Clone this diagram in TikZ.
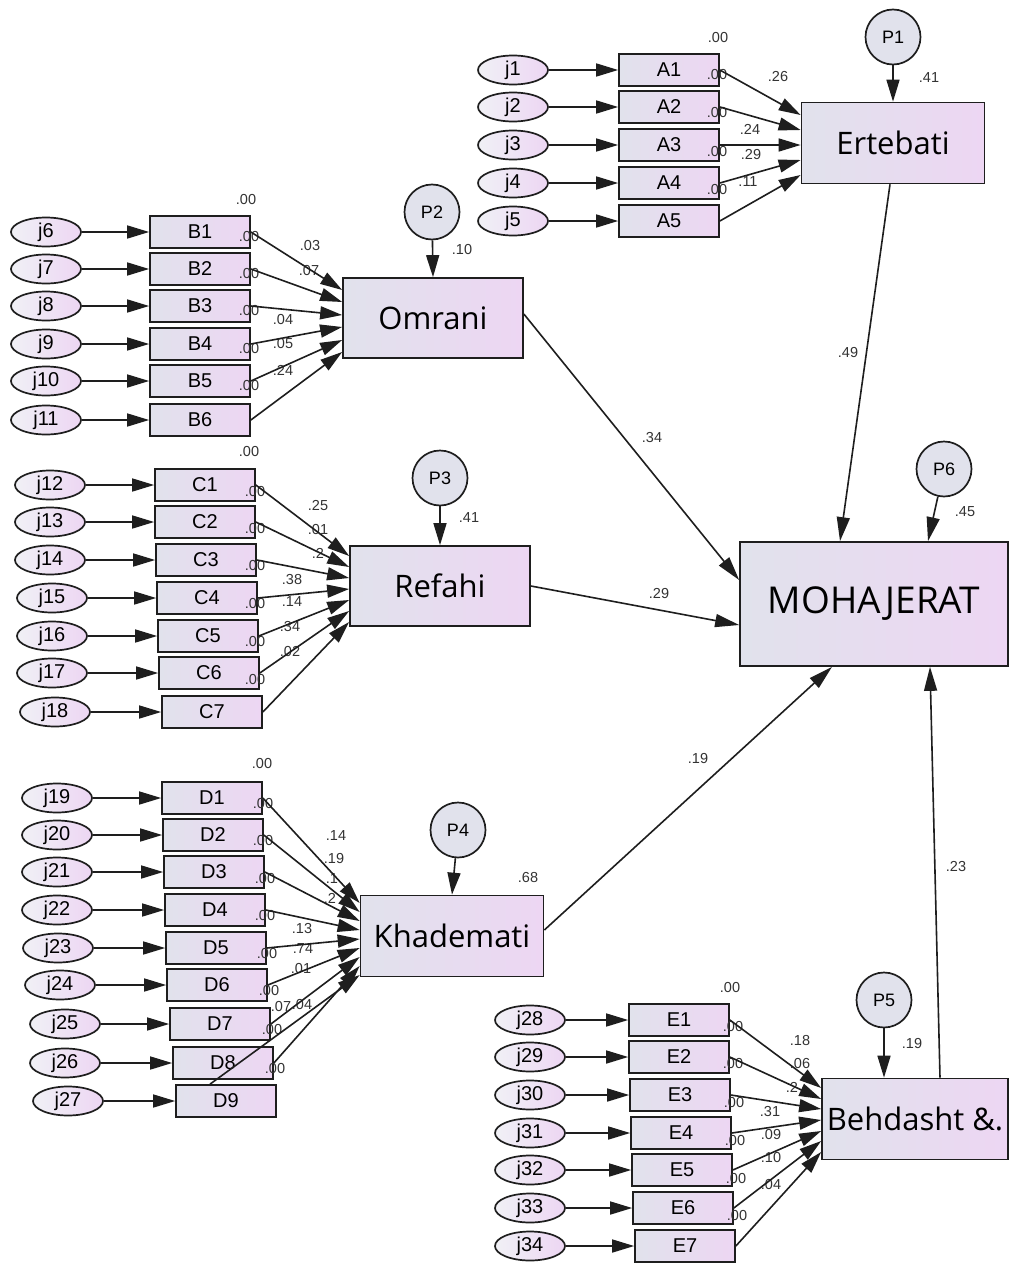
\documentclass[tikz,border=0pt]{standalone}
\usepackage{fontspec}
\setmainfont{Liberation Sans}
\newfontfamily\titlefont{Open Sans}
\usetikzlibrary{arrows.meta,shapes.geometric}
\definecolor{boxL}{HTML}{E1E2EC}
\definecolor{boxR}{HTML}{EDD6F3}
\definecolor{ln}{HTML}{1E1E1E}
\definecolor{lab}{HTML}{333333}
\tikzset{
 ind/.style={draw=ln, line width=1.7pt, left color=boxL, right color=boxR, minimum width=100pt, minimum height=32pt, inner sep=0pt, font=\fontsize{20}{21}\selectfont},
 err/.style={ellipse, draw=ln, line width=1.7pt, left color=boxL!50!white, right color=boxR, minimum width=70pt, minimum height=29pt, inner sep=0pt, font=\fontsize{20}{21}\selectfont},
 comp/.style={draw=ln, line width=1.7pt, left color=boxL, right color=boxR, minimum width=183pt, minimum height=81pt, inner sep=0pt, font=\titlefont\fontsize{31}{34}\selectfont},
 dist/.style={circle, draw=ln, line width=1.7pt, fill=boxL, minimum size=55pt, inner sep=0pt, font=\fontsize{18}{19}\selectfont},
 coef/.style={font=\fontsize{14.5}{15}\selectfont, text=lab, inner sep=0pt},
 arr/.style={draw=ln, line width=1.6pt, -{Triangle[length=22pt,width=13pt]}},
 sarr/.style={draw=ln, line width=1.6pt, -{Triangle[length=24pt,width=13pt]}},
}
\begin{document}
\begin{tikzpicture}[x=1pt,y=-1pt]
\useasboundingbox[fill=white] (0,0) rectangle (1009,1263);

% ---------- Group A ----------
\foreach \i/\y in {1/70,2/107,3/145,4/183,5/221} {
  \node[err] (j\i) at (513,\y) {j\i};
  \node[ind] (A\i) at (669,\y) {A\i};
}
\node[comp] (Ert) at (893,143) {Ertebati};
\node[dist] (P1) at (893,37) {P1};
\node[coef] (lA0) at (718,38) {.00};
\foreach \i/\y in {1/75,2/113,3/152,4/190} \node[coef] (lAv\i) at (717,\y) {.00};
\node[coef] (lA1) at (778,77) {.26};
\node[coef] (lA3) at (750,129) {.24};
\node[coef] (lA4) at (751,155) {.29};
\node[coef] (lA5) at (748,182) {.11};
\node[coef] (lP1) at (929,78) {.41};
\foreach \i in {1,...,5} \draw[arr] (j\i) -- (A\i);
\foreach \i/\o in {1/28,2/13,3/-2,4/-17,5/-32} \draw[arr] (A\i.east) -- ([yshift=\o pt]Ert.west);
\draw[arr] (P1) -- (Ert.north);

% ---------- Group B ----------
\foreach \i/\k/\y in {1/6/232,2/7/269,3/8/306,4/9/344,5/10/381,6/11/420} {
  \node[err] (j\k) at (46,\y) {j\k};
  \node[ind] (B\i) at (200,\y) {B\i};
}
\node[comp, minimum width=180pt, minimum height=80pt] (Omr) at (433,318) {Omrani};
\node[dist] (P2) at (432,212) {P2};
\node[coef] (lB0) at (246,200) {.00};
\foreach \i/\y in {1/237,2/274,3/311,4/349,5/386} \node[coef] (lBv\i) at (249,\y) {.00};
\node[coef] (lB1) at (310,246) {.03};
\node[coef] (lB2) at (309,271) {.07};
\node[coef] (lB4) at (283,320) {.04};
\node[coef] (lB5) at (283,344) {.05};
\node[coef] (lB6) at (283,370) {.24};
\node[coef] (lP2) at (462,250) {.10};
\foreach \i/\k in {1/6,2/7,3/8,4/9,5/10,6/11} \draw[arr] (j\k) -- (B\i);
\foreach \i/\o in {1/28,2/16,3/3,4/-9,5/-22,6/-34} \draw[arr] (B\i.east) -- ([yshift=\o pt]Omr.west);
\draw[arr] (P2) -- (Omr.north);

% ---------- Group C ----------
\foreach \i/\k/\xj/\xb/\y in {1/12/50/205/485,2/13/50/205/522,3/14/50/206/560,4/15/52/207/598,5/16/52/208/636,6/17/52/209/673,7/18/55/212/712} {
  \node[err] (j\k) at (\xj,\y) {j\k};
  \node[ind] (C\i) at (\xb,\y) {C\i};
}
\node[comp, minimum width=180pt, minimum height=80pt] (Ref) at (440,586) {Refahi};
\node[dist] (P3) at (440,478) {P3};
\node[coef] (lC0) at (249,452) {.00};
\foreach \i/\y in {1/492,2/529,3/566,4/604,5/642,6/680} \node[coef] (lCv\i) at (255,\y) {.00};
\node[coef] (lC1) at (318,506) {.25};
\node[coef] (lC2) at (318,530) {.01};
\node[coef] (lC3) at (318,553) {.2};
\node[coef] (lC4) at (292,580) {.38};
\node[coef] (lC5) at (292,602) {.14};
\node[coef] (lC6) at (290,627) {.34};
\node[coef] (lC7) at (290,652) {.02};
\node[coef] (lP3) at (469,518) {.41};
\foreach \i/\k in {1/12,2/13,3/14,4/15,5/16,6/17,7/18} \draw[arr] (j\k) -- (C\i);
\foreach \i/\o in {1/30,2/19,3/8,4/-3,5/-14,6/-25,7/-36} \draw[arr] (C\i.east) -- ([yshift=\o pt]Ref.west);
\draw[arr] (P3) -- (Ref.north);

% ---------- Group D ----------
\foreach \i/\k/\xj/\xb/\y in {1/19/57/212/798,2/20/57/213/835,3/21/57/214/872,4/22/57/215/910,5/23/58/216/948,6/24/60/217/985,7/25/65/220/1024,8/26/65/223/1063,9/27/68/226/1101} {
  \node[err] (j\k) at (\xj,\y) {j\k};
  \node[ind] (D\i) at (\xb,\y) {D\i};
}
\node[comp] (Kha) at (452,936) {Khademati};
\node[dist] (P4) at (458,830) {P4};
\node[coef] (lD0) at (262,763) {.00};
\foreach \i/\x/\y in {1/263/803,2/263/840,3/265/878,4/265/915,5/267/953,6/269/990,7/272/1029,8/275/1068} \node[coef] (lDv\i) at (\x,\y) {.00};
\node[coef] (lD1) at (336,836) {.14};
\node[coef] (lD2) at (334,858) {.19};
\node[coef] (lD3) at (332,879) {.1};
\node[coef] (lD4) at (330,898) {.2};
\node[coef] (lD5) at (302,928) {.13};
\node[coef] (lD6) at (303,948) {.74};
\node[coef] (lD7) at (301,968) {.01};
\node[coef] (lD8) at (281,1006) {.07};
\node[coef] (lD9) at (302,1004) {.04};
\node[coef] (lP4) at (528,877) {.68};
\foreach \i/\k in {1/19,2/20,3/21,4/22,5/23,6/24,7/25,8/26,9/27} \draw[arr] (j\k) -- (D\i);
\foreach \i/\o in {1/33,2/24,3/15,4/6,5/-3,6/-12,7/-21,8/-30} \draw[arr] (D\i.east) -- ([yshift=\o pt]Kha.west);
\draw[arr] ([xshift=-16pt]D9.north) -- ([yshift=-39pt]Kha.west);
\draw[arr] (P4) -- (Kha.north);

% ---------- Group E ----------
\foreach \i/\k/\xb/\y in {1/28/679/1020,2/29/679/1057,3/30/680/1095,4/31/681/1133,5/32/682/1170,6/33/683/1208,7/34/685/1246} {
  \node[err] (j\k) at (530,\y) {j\k};
  \node[ind] (E\i) at (\xb,\y) {E\i};
}
\node[comp, minimum width=186pt] (Beh) at (915,1119) {Behdasht \&.};
\node[dist] (P5) at (884,1000) {P5};
\node[coef] (lE0) at (730,987) {.00};
\foreach \i/\x/\y in {1/733/1026,2/733/1063,3/734/1102,4/735/1140,5/736/1178,6/737/1215} \node[coef] (lEv\i) at (\x,\y) {.00};
\node[coef] (lE1) at (800,1040) {.18};
\node[coef] (lE2) at (800,1063) {.06};
\node[coef] (lE3) at (792,1087) {.2};
\node[coef] (lE4) at (770,1111) {.31};
\node[coef] (lE5) at (771,1134) {.09};
\node[coef] (lE6) at (771,1157) {.10};
\node[coef] (lE7) at (771,1184) {.04};
\node[coef] (lP5) at (912,1043) {.19};
\foreach \i/\k in {1/28,2/29,3/30,4/31,5/32,6/33,7/34} \draw[arr] (j\k) -- (E\i);
\foreach \i/\o in {1/31,2/20,3/10,4/-1,5/-12,6/-22,7/-33} \draw[arr] (E\i.east) -- ([yshift=\o pt]Beh.west);
\draw[arr] (P5) -- (Beh.north -| P5);

% ---------- MOHAJERAT ----------
\node[draw=ln, line width=1.7pt, left color=boxL, right color=boxR, minimum width=268pt, minimum height=124pt, inner sep=0pt, font=\titlefont\fontsize{37}{40}\selectfont] (Moh) at (874,604) {MOHAJERAT};
\node[dist] (P6) at (944,469) {P6};
\node[coef] (lP6) at (965,512) {.45};
\node[coef] (lM1) at (848,353) {.49};
\node[coef] (lM2) at (652,438) {.34};
\node[coef] (lM3) at (659,594) {.29};
\node[coef] (lM4) at (698,758) {.19};
\node[coef] (lM5) at (956,866) {.23};
\draw[sarr] ([xshift=-3pt]Ert.south) -- ([xshift=-34pt]Moh.north);
\draw[sarr] ([yshift=4pt]Omr.east) -- ([yshift=24pt]Moh.west);
\draw[sarr] (Ref.east) -- ([yshift=-21pt]Moh.west);
\draw[sarr] ([yshift=6pt]Kha.east) -- ([xshift=-42pt]Moh.south);
\draw[sarr] ([xshift=25pt]Beh.north) -- ([xshift=56pt]Moh.south);
\draw[sarr] (P6) -- ([xshift=54pt]Moh.north);
\end{tikzpicture}
\end{document}
